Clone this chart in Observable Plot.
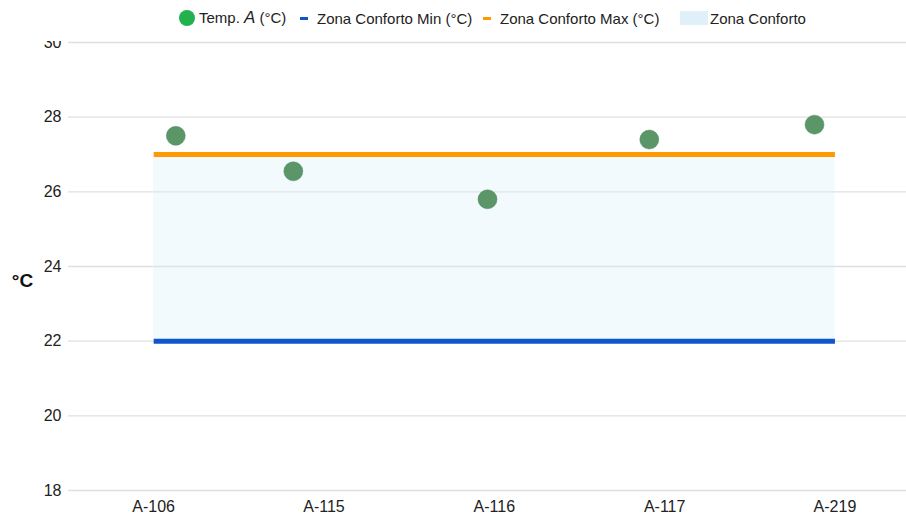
<!DOCTYPE html>
<html>
<head>
<meta charset="utf-8">
<script src="https://cdn.jsdelivr.net/npm/d3@7"></script>
<script src="https://cdn.jsdelivr.net/npm/@observablehq/plot@0.6"></script>
<style>
  body { margin: 0; background: #fff; font-family: "Liberation Sans", Arial, sans-serif; }
  #wrap { position: relative; width: 906px; height: 518px; overflow: hidden; }
  #legend { position: absolute; left: 0; top: 0; width: 906px; height: 41px; background: #fff; z-index: 2; font-size: 15px; color: #222; }
  .item { position: absolute; top: 9px; height: 18px; display: flex; align-items: center; white-space: nowrap; }
  .dotsym { width: 16px; height: 16px; border-radius: 50%; background: #22b14c; margin-right: 4px; }
  .dash { width: 8px; height: 3px; margin-right: 9px; }
  .swatch { width: 28px; height: 14px; background: #dff0f8; margin-right: 2px; }
  #chart svg { display: block; }
</style>
</head>
<body>
<div id="wrap">
  <div id="legend"></div>
  <div id="chart"></div>
</div>
<script>
// ---- data ----
const categories = ["A-106", "A-115", "A-116", "A-117", "A-219"];
const tempValues = [27.5, 26.55, 25.8, 27.4, 27.8];
// horizontal position of each temperature point along the category axis (category index units)
const tempPositions = [0.13, 0.82, 1.96, 2.91, 3.88];
const comfortMin = [22, 22, 22, 22, 22];
const comfortMax = [27, 27, 27, 27, 27];
const yTicks = [18, 20, 22, 24, 26, 28, 30];
const yLabel = "°C";
const legendItems = [
  { type: "dot", color: "#22b14c", html: "Temp. <i style=\"font-size:17px\">A</i> (°C)", left: 179 },
  { type: "dash", color: "#1155cc", html: "Zona Conforto Min (°C)", left: 300 },
  { type: "dash", color: "#ff9900", html: "Zona Conforto Max (°C)", left: 483 },
  { type: "swatch", color: "#dff0f8", html: "Zona Conforto", left: 680 }
];

// ---- tables ----
const zone = categories.map((c, i) => ({ cat: c, idx: i, min: comfortMin[i], max: comfortMax[i] }));
const temps = categories.map((c, i) => ({ cat: c, pos: tempPositions[i], temp: tempValues[i] }));

// ---- legend ----
const legend = document.getElementById("legend");
for (const it of legendItems) {
  const d = document.createElement("div");
  d.className = "item";
  d.style.left = it.left + "px";
  const s = document.createElement("span");
  s.className = it.type === "dot" ? "dotsym" : it.type === "dash" ? "dash" : "swatch";
  s.style.background = it.color;
  d.appendChild(s);
  const t = document.createElement("span");
  t.innerHTML = it.html;
  d.appendChild(t);
  legend.appendChild(d);
}

// ---- chart ----
const chart = Plot.plot({
  width: 906,
  height: 518,
  marginLeft: 68,
  marginRight: 0,
  marginTop: 42,
  marginBottom: 28,
  style: { fontFamily: "'Liberation Sans', Arial, sans-serif", fontSize: "16px", color: "#222", background: "#fff" },
  x: { type: "linear", domain: [-0.5, 4.42] },
  y: { domain: [18, 30] },
  marks: [
    Plot.gridY(yTicks, { stroke: "#e0e0e0", strokeOpacity: 1, strokeWidth: 1.3 }),
    Plot.areaY(zone, { x: "idx", y1: "min", y2: "max", fill: "#d4edf9", fillOpacity: 0.3 }),
    Plot.lineY(zone, { x: "idx", y: "min", stroke: "#1155cc", strokeWidth: 5, strokeLinecap: "butt" }),
    Plot.lineY(zone, { x: "idx", y: "max", stroke: "#ff9900", strokeWidth: 5, strokeLinecap: "butt" }),
    Plot.dot(temps, { x: "pos", y: "temp", r: 9.5, fill: "#5a9668", stroke: "#4f8c5e", strokeWidth: 0.5 }),
    Plot.axisY(yTicks, { tickSize: 0, tickPadding: 7, fontSize: 16, fill: "#222", label: null }),
    Plot.axisX(categories.map((c, i) => i), { tickSize: 0, tickPadding: 10, fontSize: 16, fill: "#222", tickFormat: (i) => categories[i], label: null }),
    Plot.text([yLabel], { frameAnchor: "left", dx: -46, dy: 14, fontSize: 19, fontWeight: "bold", fill: "#111", textAnchor: "middle" })
  ]
});
document.getElementById("chart").appendChild(chart);
</script>
</body>
</html>
